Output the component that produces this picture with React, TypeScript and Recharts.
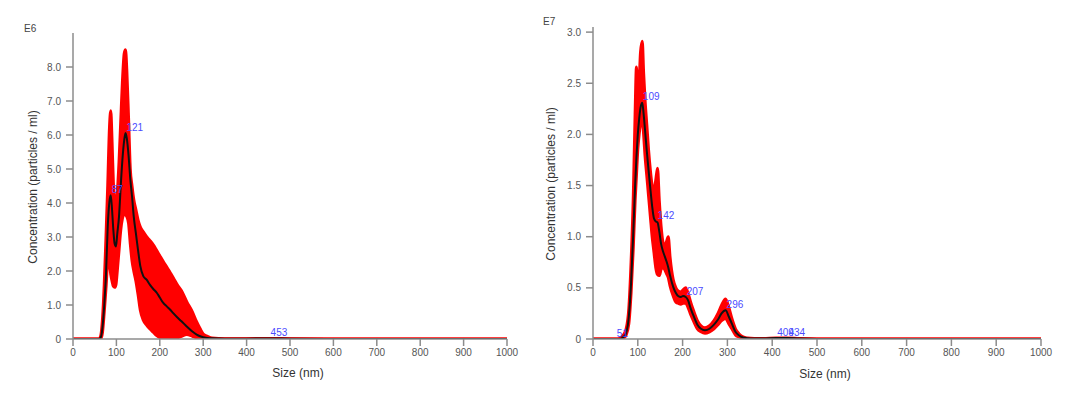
import React from "react";
import { Area, ComposedChart, Line, Scatter, XAxis, YAxis } from "recharts";

// left panel (E6)
const sizesA = [0, 40, 60, 64, 68, 72, 76, 80, 84, 87, 90, 93, 96, 99, 102, 106, 110, 114, 118, 121, 124, 128, 132, 136, 140, 145, 150, 155, 162, 170, 177, 185, 193, 200, 208, 216, 224, 231, 240, 250, 262, 275, 285, 293, 300, 310, 320, 350, 400, 453, 500, 600, 1000];
const meanA = [0, 0, 0, 0.05, 0.35, 1.0, 1.9, 3.3, 4.05, 4.23, 3.8, 3.2, 2.8, 2.72, 3.1, 3.6, 4.5, 5.3, 5.85, 6.06, 5.9, 5.4, 4.7, 4.2, 3.6, 3.1, 2.6, 2.15, 1.85, 1.74, 1.6, 1.47, 1.36, 1.22, 1.06, 0.96, 0.86, 0.76, 0.64, 0.52, 0.37, 0.22, 0.13, 0.08, 0.05, 0.03, 0.02, 0.01, 0.01, 0.015, 0.01, 0, 0];
const upperA = [0, 0, 0, 0.1, 0.6, 1.6, 3.0, 4.5, 6.2, 6.71, 5.8, 4.6, 4.1, 4.0, 4.3, 5.2, 6.4, 7.6, 8.4, 8.51, 7.9, 6.5, 5.0, 4.5, 4.1, 3.8, 3.5, 3.3, 3.15, 3.0, 2.9, 2.77, 2.6, 2.45, 2.28, 2.12, 1.95, 1.8, 1.6, 1.42, 1.1, 0.8, 0.5, 0.3, 0.15, 0.08, 0.03, 0.01, 0.01, 0.015, 0.01, 0, 0];
const lowerA = [0, 0, 0, 0, 0.2, 0.8, 1.5, 2.2, 2.2, 1.9, 1.7, 1.55, 1.52, 1.6, 2.0, 2.6, 3.2, 3.55, 3.68, 3.65, 3.6, 3.4, 2.8, 2.3, 2.0, 1.7, 1.3, 0.85, 0.55, 0.4, 0.3, 0.2, 0.1, 0.04, 0.01, 0, 0, 0, 0.03, 0.08, 0.13, 0.08, 0.03, 0.02, 0.02, 0.01, 0.01, 0, 0, 0, 0, 0, 0];
const peakSizesA = [87, 121, 453];
const peakValuesA = [4.23, 6.06, 0.015];
const ticksA = [0, 1, 2, 3, 4, 5, 6, 7, 8];

// right panel (E7)
const sizesB = [0, 40, 55, 62, 68, 74, 80, 85, 90, 94, 97, 100, 103, 106, 110, 113, 116, 120, 124, 128, 132, 136, 140, 144, 148, 152, 156, 160, 164, 168, 172, 179, 185, 190, 196, 201, 207, 212, 218, 225, 233, 241, 250, 260, 270, 279, 287, 296, 303, 310, 318, 326, 335, 345, 360, 380, 409, 434, 460, 500, 600, 1000];
const meanB = [0, 0, 0, 0.003, 0.02, 0.06, 0.22, 0.55, 1.05, 1.5, 1.78, 2.0, 2.15, 2.26, 2.31, 2.2, 2.05, 1.84, 1.65, 1.47, 1.3, 1.18, 1.15, 1.14, 1.05, 0.93, 0.86, 0.81, 0.76, 0.7, 0.62, 0.51, 0.45, 0.42, 0.41, 0.42, 0.41, 0.38, 0.3, 0.22, 0.14, 0.1, 0.085, 0.1, 0.14, 0.19, 0.25, 0.28, 0.22, 0.15, 0.07, 0.035, 0.015, 0.008, 0.005, 0.004, 0.01, 0.01, 0.004, 0, 0, 0];
const upperB = [0, 0, 0, 0.01, 0.04, 0.1, 0.3, 0.75, 1.4, 2.2, 2.66, 2.35, 2.5, 2.8, 2.91, 2.6, 2.35, 2.1, 1.85, 1.65, 1.5, 1.45, 1.55, 1.67, 1.35, 1.1, 0.95, 0.9, 0.95, 1.0, 0.8, 0.58, 0.5, 0.47, 0.46, 0.48, 0.5, 0.45, 0.36, 0.27, 0.18, 0.13, 0.11, 0.13, 0.18, 0.25, 0.33, 0.39, 0.31, 0.2, 0.1, 0.05, 0.02, 0.01, 0.005, 0.004, 0.01, 0.01, 0.004, 0, 0, 0];
const lowerB = [0, 0, 0, 0, 0.01, 0.04, 0.15, 0.45, 0.9, 1.35, 1.6, 1.85, 2.0, 2.1, 2.15, 2.0, 1.8, 1.6, 1.4, 1.2, 1.0, 0.85, 0.7, 0.63, 0.62, 0.68, 0.7, 0.68, 0.64, 0.6, 0.52, 0.42, 0.36, 0.35, 0.34, 0.35, 0.35, 0.31, 0.24, 0.17, 0.1, 0.07, 0.055, 0.07, 0.1, 0.14, 0.18, 0.2, 0.15, 0.1, 0.04, 0.02, 0.005, 0, 0, 0, 0, 0, 0, 0, 0, 0];
const peakSizesB = [51, 109, 142, 207, 296, 409, 434];
const peakValuesB = [0.003, 2.32, 1.15, 0.41, 0.28, 0.01, 0.01];
const ticksB = [0, 0.5, 1, 1.5, 2, 2.5, 3];

const sizeTicks = [0, 100, 200, 300, 400, 500, 600, 700, 800, 900, 1000];

const font = "'Liberation Sans', Arial, sans-serif";
const axisGrey = "#8c8c8c";

const PeakLabel = (props: any) => (
  <text x={props.cx + 1} y={props.cy - 2} fill="#4b4bff" fontSize={10} fontFamily={font}>
    {props.payload.label}
  </text>
);

function Panel(props: any) {
  const { left, sizes, mean, upper, lower, peakSizes, peakValues, ticks, yMax, margin, exp, expPos, yLabelPos, xLabelPos, fmt } = props;
  const rows = sizes.map((s: number, i: number) => ({ size: s, mean: mean[i], band: [lower[i], upper[i]] }));
  const peaks = peakSizes.map((s: number, i: number) => ({ size: s, value: peakValues[i], label: String(s) }));
  const tick = { fontSize: 10, fill: "#555", fontFamily: font };
  return (
    <div style={{ position: "absolute", left, top: 0, width: 540, height: 393 }}>
      <ComposedChart width={540} height={393} data={rows} margin={margin}>
        <XAxis dataKey="size" type="number" domain={[0, 1000]} ticks={sizeTicks} height={30} tick={tick} tickSize={7} tickMargin={3} stroke={axisGrey} strokeWidth={1.5} />
        <YAxis type="number" domain={[0, yMax]} ticks={ticks} width={50} tick={tick} tickSize={7} tickMargin={5} stroke={axisGrey} strokeWidth={1.5} tickFormatter={fmt} allowDataOverflow />
        <Area dataKey="band" type="monotone" fill="#ff0000" fillOpacity={1} stroke="#ff0000" strokeWidth={3} isAnimationActive={false} />
        <Line dataKey="mean" type="monotone" stroke="#111" strokeWidth={2} dot={false} isAnimationActive={false} />
        <Scatter data={peaks} dataKey="value" shape={PeakLabel} isAnimationActive={false} />
      </ComposedChart>
      <div style={{ position: "absolute", left: expPos[0], top: expPos[1], fontSize: 10, color: "#444", fontFamily: font }}>{exp}</div>
      <div style={{ position: "absolute", left: yLabelPos[0], top: yLabelPos[1], transform: "translate(-50%, -50%) rotate(-90deg)", whiteSpace: "nowrap", fontSize: 12, color: "#333", fontFamily: font }}>
        Concentration (particles / ml)
      </div>
      <div style={{ position: "absolute", left: xLabelPos[0], top: xLabelPos[1], transform: "translate(-50%, -50%)", whiteSpace: "nowrap", fontSize: 12, color: "#333", fontFamily: font }}>
        Size (nm)
      </div>
    </div>
  );
}

export default function App() {
  return (
    <div style={{ position: "absolute", left: 0, top: 0, width: 1080, height: 393, background: "#fff", overflow: "hidden" }}>
      <Panel
        left={0}
        sizes={sizesA}
        mean={meanA}
        upper={upperA}
        lower={lowerA}
        peakSizes={peakSizesA}
        peakValues={peakValuesA}
        ticks={ticksA}
        yMax={9}
        margin={{ top: 33, right: 33, bottom: 24, left: 23 }}
        exp="E6"
        expPos={[24, 23]}
        yLabelPos={[33, 187]}
        xLabelPos={[298, 373]}
        fmt={(v: number) => (v === 0 ? "0" : v.toFixed(1))}
      />
      <Panel
        left={540}
        sizes={sizesB}
        mean={meanB}
        upper={upperB}
        lower={lowerB}
        peakSizes={peakSizesB}
        peakValues={peakValuesB}
        ticks={ticksB}
        yMax={3.05}
        margin={{ top: 27, right: 39, bottom: 24, left: 3 }}
        exp="E7"
        expPos={[3, 16]}
        yLabelPos={[11, 184]}
        xLabelPos={[285, 374]}
        fmt={(v: number) => (v === 0 ? "0" : v.toFixed(1))}
      />
    </div>
  );
}
